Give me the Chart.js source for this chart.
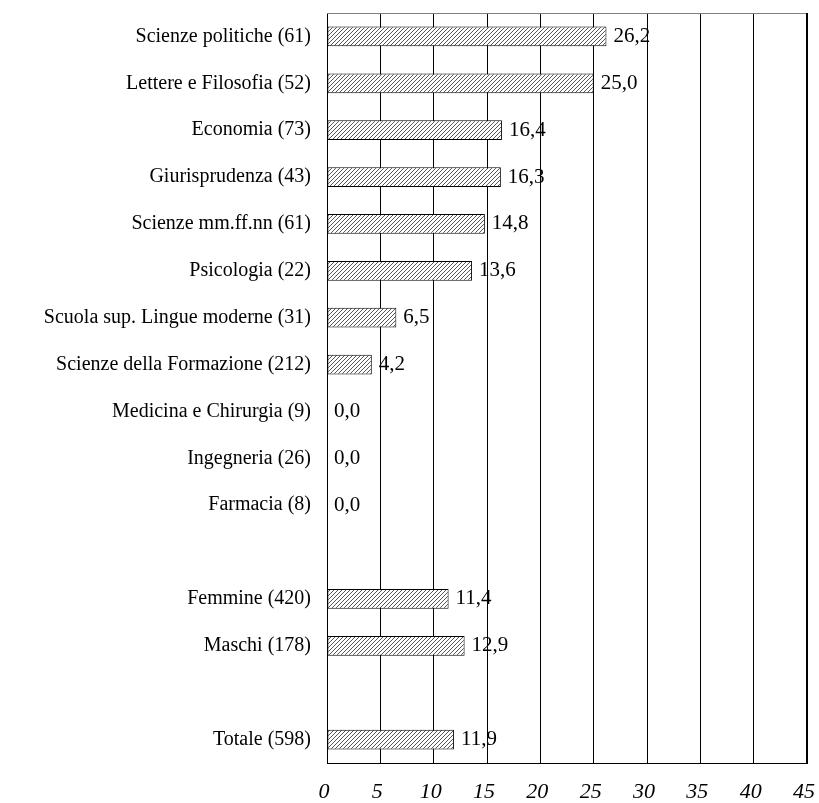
<!DOCTYPE html>
<html>
<head>
<meta charset="utf-8">
<script src="https://cdn.jsdelivr.net/npm/chart.js@4"></script>
<style>
  html, body { margin: 0; padding: 0; background: #fff; }
  #wrap { width: 819px; height: 803px; }
</style>
</head>
<body>
<div id="wrap"><canvas id="chart"></canvas></div>
<script>
// categories (blank entries are the empty rows between groups)
const categories = [
  "Scienze politiche (61)", "Lettere e Filosofia (52)", "Economia (73)",
  "Giurisprudenza (43)", "Scienze mm.ff.nn (61)", "Psicologia (22)",
  "Scuola sup. Lingue moderne (31)", "Scienze della Formazione (212)",
  "Medicina e Chirurgia (9)", "Ingegneria (26)", "Farmacia (8)",
  "",
  "Femmine (420)", "Maschi (178)",
  "",
  "Totale (598)"
];
const percentages = [26.2, 25.0, 16.4, 16.3, 14.8, 13.6, 6.5, 4.2, 0.0, 0.0, 0.0, null, 11.4, 12.9, null, 11.9];
const xTicks = [0, 5, 10, 15, 20, 25, 30, 35, 40, 45];

function makeHatch() {
  const c = document.createElement("canvas");
  c.width = 4; c.height = 4;
  const g = c.getContext("2d");
  g.fillStyle = "#fff";
  g.fillRect(0, 0, 4, 4);
  g.strokeStyle = "#555";
  g.lineWidth = 1;
  g.beginPath();
  g.moveTo(0, 4); g.lineTo(4, 0);
  g.moveTo(-1, 1); g.lineTo(1, -1);
  g.moveTo(3, 5); g.lineTo(5, 3);
  g.stroke();
  return g.createPattern(c, "repeat");
}

const valueLabels = {
  id: "valueLabels",
  afterDatasetsDraw(chart) {
    const ctx = chart.ctx;
    const meta = chart.getDatasetMeta(0);
    ctx.save();
    ctx.font = "21px 'Liberation Serif'";
    ctx.fillStyle = "#000";
    ctx.textBaseline = "middle";
    meta.data.forEach((bar, i) => {
      const v = percentages[i];
      if (v === null) return;
      ctx.fillText(v.toFixed(1).replace(".", ","), bar.x + 7, bar.y);
    });
    ctx.restore();
  }
};

const frame = {
  id: "frame",
  afterDraw(chart) {
    const a = chart.chartArea, ctx = chart.ctx;
    ctx.save();
    ctx.lineWidth = 1;
    ctx.strokeStyle = "#808080";
    ctx.beginPath();
    ctx.moveTo(a.left, a.top + 0.5); ctx.lineTo(a.right, a.top + 0.5);
    ctx.stroke();
    ctx.strokeStyle = "#000";
    ctx.beginPath();
    ctx.moveTo(a.right - 0.5, a.top); ctx.lineTo(a.right - 0.5, a.bottom);
    ctx.stroke();
    ctx.restore();
  }
};

new Chart(document.getElementById("chart"), {
  type: "bar",
  data: {
    labels: categories,
    datasets: [{
      data: percentages,
      backgroundColor: makeHatch(),
      borderColor: "#000",
      borderWidth: 1,
      borderSkipped: false,
      barPercentage: 0.42,
      categoryPercentage: 1.0
    }]
  },
  options: {
    indexAxis: "y",
    responsive: true,
    maintainAspectRatio: false,
    animation: false,
    layout: { padding: { top: 13, right: 12, left: 0, bottom: 0 } },
    plugins: { legend: { display: false }, tooltip: { enabled: false } },
    scales: {
      x: {
        min: 0, max: 45,
        afterBuildTicks(scale) { scale.ticks = xTicks.map(v => ({ value: v })); },
        afterFit(scale) {
          scale.height = 40;
          scale.paddingLeft = 0; scale.paddingRight = 0;
        },
        grid: { color: "#000", lineWidth: 1, drawTicks: false },
        border: { color: "#000", width: 1 },
        ticks: {
          padding: 16,
          labelOffset: -3,
          color: "#000",
          font: { family: "'Liberation Serif'", size: 22, style: "italic" }
        }
      },
      y: {
        afterFit(scale) {
          scale.width = 327;
          scale.paddingTop = 0; scale.paddingBottom = 0;
        },
        grid: { display: false, drawTicks: false },
        border: { color: "#000", width: 1 },
        ticks: {
          padding: 16,
          color: "#000",
          autoSkip: false,
          font: { family: "'Liberation Serif'", size: 20 }
        }
      }
    }
  },
  plugins: [valueLabels, frame]
});
</script>
</body>
</html>
